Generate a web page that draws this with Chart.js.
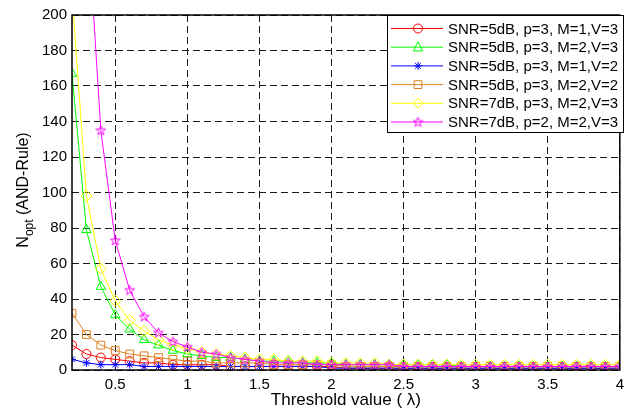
<!DOCTYPE html>
<html>
<head>
<meta charset="utf-8">
<script src="https://cdn.jsdelivr.net/npm/chart.js"></script>
<style>
html, body { margin: 0; padding: 0; background: #fff; }
</style>
</head>
<body>
<canvas id="plot" width="630" height="409"></canvas>
<script>
// threshold values (lambda)
var lambda = [0.2, 0.3, 0.4, 0.5, 0.6, 0.7, 0.8, 0.9, 1.0, 1.1, 1.2, 1.3, 1.4, 1.5, 1.6, 1.7, 1.8, 1.9, 2.0,
    2.1, 2.2, 2.3, 2.4, 2.5, 2.6, 2.7, 2.8, 2.9, 3.0, 3.1, 3.2, 3.3, 3.4, 3.5, 3.6, 3.7, 3.8, 3.9, 4.0];

var seriesLabels = ['SNR=5dB, p=3, M=1,V=3', 'SNR=5dB, p=3, M=2,V=3', 'SNR=5dB, p=3, M=1,V=2',
    'SNR=5dB, p=3, M=2,V=2', 'SNR=7dB, p=3, M=2,V=3', 'SNR=7dB, p=2, M=2,V=3'];

var snr5M1V3 = [14, 9, 7, 6, 5, 4, 4, 3, 3, 3, 3, 2, 2, 2, 2, 2, 2, 2, 2,
    1, 1, 1, 1, 1, 1, 1, 1, 1, 1, 1, 1, 1, 1, 1, 1, 1, 1, 1, 1];
var snr5M2V3 = [167, 79, 47, 31, 23, 17, 14, 11, 9, 8, 7, 7, 6, 5, 5, 5, 4, 4, 4,
    3, 3, 3, 3, 3, 3, 3, 3, 2, 2, 2, 2, 2, 2, 2, 2, 2, 2, 2, 2];
var snr5M1V2 = [6, 4, 3, 3, 3, 2, 2, 2, 2, 2, 2, 2, 2, 2, 2, 2, 2, 2, 1,
    1, 1, 1, 1, 1, 1, 1, 1, 1, 1, 1, 1, 1, 1, 1, 1, 1, 1, 1, 1];
var snr5M2V2 = [32, 20, 14, 11, 9, 8, 7, 6, 5, 5, 4, 4, 4, 4, 3, 3, 3, 3, 3,
    2, 2, 2, 2, 2, 2, 2, 2, 2, 2, 2, 2, 2, 2, 2, 2, 2, 2, 2, 2];
var snr7P3 = [212, 98, 57, 39, 28, 22, 17, 14, 12, 10, 9, 8, 7, 6, 6, 5, 5, 5, 4,
    4, 4, 4, 3, 3, 3, 3, 3, 3, 3, 3, 3, 3, 3, 3, 3, 3, 3, 3, 3];
var snr7P2 = [600, 265, 135, 73, 45, 30, 21, 16, 13, 10, 9, 7, 6, 5, 4, 4, 4, 3, 3,
    3, 3, 3, 3, 2, 2, 2, 2, 2, 2, 2, 2, 2, 2, 2, 2, 2, 2, 2, 2];

var xTicks = [0.5, 1, 1.5, 2, 2.5, 3, 3.5, 4];
var yTicks = [0, 20, 40, 60, 80, 100, 120, 140, 160, 180, 200];

var FONT = '"Liberation Sans", Arial, sans-serif';

// pentagram marker for the last series
function makePentagram(color) {
    var c = document.createElement('canvas');
    c.width = 11; c.height = 11;
    var g = c.getContext('2d');
    g.strokeStyle = color;
    g.lineWidth = 1;
    g.beginPath();
    for (var k = 0; k < 10; k++) {
        var r = k % 2 === 0 ? 5 : 2.1;
        var a = -Math.PI / 2 + k * Math.PI / 5;
        var px = 5.5 + r * Math.cos(a), py = 5.8 + r * Math.sin(a);
        if (k === 0) g.moveTo(px, py); else g.lineTo(px, py);
    }
    g.closePath();
    g.stroke();
    return c;
}

var colors = ['#ff0000', '#00ff00', '#0000ff', '#dd8022', '#ffff00', '#ff00ff'];
var styles = ['circle', 'triangle', 'star', 'rect', 'rectRot', makePentagram('#ff00ff')];
var radii = [4.5, 5.5, 4, 5.5, 5.5, 5];
var values = [snr5M1V3, snr5M2V3, snr5M1V2, snr5M2V2, snr7P3, snr7P2];

var datasets = values.map(function (arr, i) {
    return {
        label: seriesLabels[i],
        data: arr.map(function (v, j) { return { x: lambda[j], y: v }; }),
        borderColor: colors[i],
        backgroundColor: colors[i],
        borderWidth: 1,
        pointStyle: styles[i],
        pointRadius: radii[i],
        pointBorderColor: colors[i],
        pointBackgroundColor: 'rgba(0,0,0,0)',
        pointBorderWidth: 1,
        tension: 0,
        order: 5 - i
    };
});

function drawMarker(ctx, style, x, y, r, color) {
    ctx.save();
    ctx.strokeStyle = color;
    ctx.lineWidth = 1;
    ctx.beginPath();
    if (style === 'circle') {
        ctx.arc(x, y, r, 0, Math.PI * 2);
    } else if (style === 'triangle') {
        ctx.moveTo(x, y - r);
        ctx.lineTo(x + r * 0.866, y + r * 0.5 + 1);
        ctx.lineTo(x - r * 0.866, y + r * 0.5 + 1);
        ctx.closePath();
    } else if (style === 'star') {
        for (var k = 0; k < 4; k++) {
            var a = k * Math.PI / 4;
            ctx.moveTo(x - r * Math.cos(a), y - r * Math.sin(a));
            ctx.lineTo(x + r * Math.cos(a), y + r * Math.sin(a));
        }
    } else if (style === 'rect') {
        var s = r * Math.SQRT1_2;
        ctx.rect(x - s, y - s, 2 * s, 2 * s);
    } else if (style === 'rectRot') {
        var d = r * Math.SQRT1_2 * 1.3;
        ctx.moveTo(x, y - d); ctx.lineTo(x + d, y); ctx.lineTo(x, y + d); ctx.lineTo(x - d, y);
        ctx.closePath();
    }
    ctx.stroke();
    if (typeof style === 'object') {
        ctx.drawImage(style, x - style.width / 2, y - style.height / 2);
    }
    ctx.restore();
}

var matlabFrame = {
    id: 'matlabFrame',
    afterDatasetsDraw: function (chart) {
        var ctx = chart.ctx, a = chart.chartArea;
        ctx.save();
        ctx.strokeStyle = '#000';
        ctx.lineWidth = 1.5;
        ctx.strokeRect(a.left, a.top, a.right - a.left, a.bottom - a.top);
        ctx.restore();

        // legend box
        var bx = 387, by = 15, bw = 236, bh = 117;
        ctx.save();
        ctx.fillStyle = '#fff';
        ctx.fillRect(bx, by, bw, bh);
        ctx.strokeStyle = '#000';
        ctx.lineWidth = 1;
        ctx.strokeRect(bx + 0.5, by + 0.5, bw, bh);
        ctx.font = '15px ' + FONT;
        ctx.textBaseline = 'middle';
        ctx.fillStyle = '#000';
        chart.data.datasets.forEach(function (ds, i) {
            var ry = 28.5 + i * 18.7;
            ctx.strokeStyle = ds.borderColor;
            ctx.lineWidth = 1;
            ctx.beginPath();
            ctx.moveTo(391, ry);
            ctx.lineTo(443, ry);
            ctx.stroke();
            drawMarker(ctx, ds.pointStyle, 418, ry, ds.pointRadius, ds.borderColor);
            ctx.fillStyle = '#000';
            ctx.fillText(ds.label, 448, ry + 1);
        });
        ctx.restore();
    },
    afterDraw: function (chart) {
        var ctx = chart.ctx, a = chart.chartArea;
        ctx.save();
        ctx.fillStyle = '#000';
        ctx.font = '17px ' + FONT;
        ctx.textAlign = 'center';
        ctx.textBaseline = 'alphabetic';
        ctx.fillText('Threshold value ( \u03bb)', (a.left + a.right) / 2, 405);

        // y title with subscript
        ctx.translate(28, 190);
        ctx.rotate(-Math.PI / 2);
        var main = 'N', sub = 'opt', rest = ' (AND-Rule)';
        ctx.font = '16px ' + FONT;
        var w1 = ctx.measureText(main).width;
        var w3 = ctx.measureText(rest).width;
        ctx.font = '12px ' + FONT;
        var w2 = ctx.measureText(sub).width;
        var x0 = -(w1 + w2 + w3) / 2;
        ctx.textAlign = 'left';
        ctx.font = '16px ' + FONT;
        ctx.fillText(main, x0, 0);
        ctx.font = '12px ' + FONT;
        ctx.fillText(sub, x0 + w1, 5);
        ctx.font = '16px ' + FONT;
        ctx.fillText(rest, x0 + w1 + w2, 0);
        ctx.restore();
    }
};

new Chart(document.getElementById('plot'), {
    type: 'line',
    data: { datasets: datasets },
    options: {
        responsive: false,
        animation: false,
        devicePixelRatio: 1,
        layout: { padding: { top: 15, right: 2, left: 0, bottom: 0 } },
        plugins: {
            legend: { display: false },
            tooltip: { enabled: false }
        },
        scales: {
            x: {
                type: 'linear',
                min: 0.2,
                max: 4,
                afterBuildTicks: function (scale) {
                    scale.ticks = xTicks.map(function (v) { return { value: v }; });
                },
                afterFit: function (scale) { scale.height = 39; },
                grid: { color: '#1a1a1a', lineWidth: 1, drawTicks: false },
                border: { display: false, dash: [7, 4] },
                ticks: {
                    padding: 6,
                    maxRotation: 0,
                    autoSkip: false,
                    color: '#000',
                    font: { family: FONT, size: 15 },
                    callback: function (v) { return String(v); }
                }
            },
            y: {
                min: 0,
                max: 200,
                afterBuildTicks: function (scale) {
                    scale.ticks = yTicks.map(function (v) { return { value: v }; });
                },
                afterFit: function (scale) { scale.width = 72; },
                grid: { color: '#1a1a1a', lineWidth: 1, drawTicks: false },
                border: { display: false, dash: [7, 4] },
                ticks: {
                    padding: 5,
                    color: '#000',
                    font: { family: FONT, size: 15 },
                    callback: function (v) { return String(v); }
                }
            }
        }
    },
    plugins: [matlabFrame]
});
</script>
</body>
</html>
